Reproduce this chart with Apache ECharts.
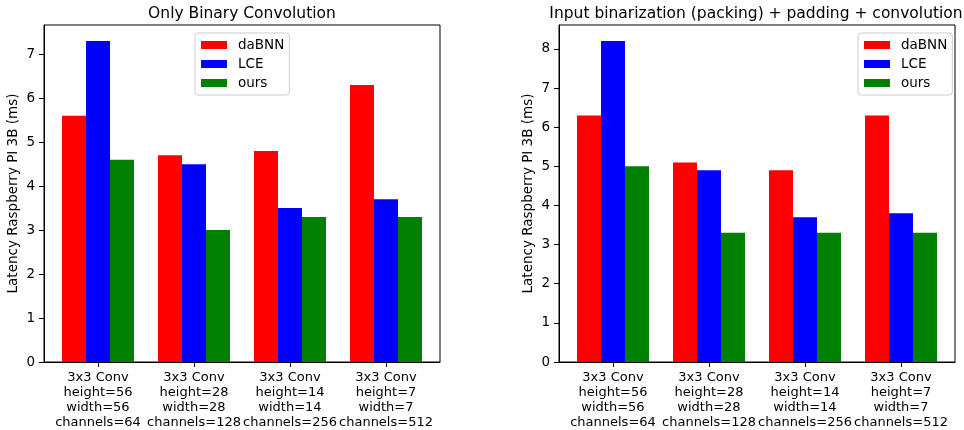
<!DOCTYPE html>
<html><head><meta charset="utf-8">
<script src="https://cdn.jsdelivr.net/npm/echarts@6/dist/echarts.min.js"></script>
<style>html,body{margin:0;padding:0;background:#fff}#c{width:964px;height:430px}</style>
</head><body><div id="c"></div>
<script>
const categories = [
  "3x3 Conv\nheight=56\nwidth=56\nchannels=64",
  "3x3 Conv\nheight=28\nwidth=28\nchannels=128",
  "3x3 Conv\nheight=14\nwidth=14\nchannels=256",
  "3x3 Conv\nheight=7\nwidth=7\nchannels=512"
];
const seriesNames = ["daBNN", "LCE", "ours"];
const leftTitle = "Only Binary Convolution";
const rightTitle = "Input binarization (packing) + padding + convolution";
const yLabel = "Latency Raspberry PI 3B (ms)";
const leftDaBNN = [5.6, 4.7, 4.8, 6.3];
const leftLCE = [7.3, 4.5, 3.5, 3.7];
const leftOurs = [4.6, 3.0, 3.3, 3.3];
const rightDaBNN = [6.3, 5.1, 4.9, 6.3];
const rightLCE = [8.2, 4.9, 3.7, 3.8];
const rightOurs = [5.0, 3.3, 3.3, 3.3];
const leftYTicks = [0, 1, 2, 3, 4, 5, 6, 7];
const rightYTicks = [0, 1, 2, 3, 4, 5, 6, 7, 8];
const colors = ["#ff0000", "#0000ff", "#008000"];

const FONT = "DejaVu Sans";
const FS = 13.5;
const chart = echarts.init(document.getElementById('c'));
const toPts = arr => arr.map((v, i) => [i, v]);
const catIdx = categories.map((c, i) => i);

function xAx(gi) {
  return {
    type: 'value', gridIndex: gi, min: -0.5625, max: 3.5625,
    splitLine: { show: false },
    axisLine: { show: true, onZero: false, lineStyle: { color: '#000', width: 1 } },
    axisTick: { show: true, customValues: catIdx, length: 5, lineStyle: { color: '#000' } },
    axisLabel: { customValues: catIdx, formatter: v => categories[Math.round(v)] || '',
      hideOverlap: false, showMinLabel: true, showMaxLabel: true,
      fontFamily: FONT, fontSize: 13, color: '#000', lineHeight: 15, margin: 8, align: 'center' }
  };
}
function yAx(gi, max, ticks) {
  return {
    type: 'value', gridIndex: gi, min: 0, max: max,
    name: yLabel, nameLocation: 'middle', nameGap: 24,
    nameTextStyle: { fontFamily: FONT, fontSize: FS, color: '#000' },
    splitLine: { show: false },
    axisLine: { show: true, onZero: false, lineStyle: { color: '#000', width: 1 } },
    axisTick: { show: true, customValues: ticks, length: 5, lineStyle: { color: '#000' } },
    axisLabel: { customValues: ticks, hideOverlap: false, fontFamily: FONT, fontSize: FS, color: '#000', margin: 9,
      formatter: v => String(Math.round(v)) }
  };
}
function bars(name, data, idx, gi) {
  return { type: 'bar', name: name, xAxisIndex: gi, yAxisIndex: gi, data: toPts(data),
    barWidth: 24, barGap: '0%', itemStyle: { color: colors[idx] }, silent: true, animation: false };
}
function legend(left) {
  return { orient: 'vertical', left: left, top: 33, data: seriesNames,
    itemWidth: 26, itemHeight: 8, itemGap: 5, icon: 'rect',
    padding: [5, 5, 5, 6], borderColor: '#cccccc', borderWidth: 1, borderRadius: 3,
    backgroundColor: '#ffffff',
    textStyle: { fontFamily: FONT, fontSize: FS, color: '#000', padding: [0, 0, 0, 6] } };
}

chart.setOption({
  animation: false,
  backgroundColor: '#ffffff',
  title: [
    { text: leftTitle, left: 237, top: 1, textAlign: 'center',
      textStyle: { fontFamily: FONT, fontSize: 15.5, fontWeight: 'normal', color: '#000' } },
    { text: rightTitle, left: 751, top: 1, textAlign: 'center',
      textStyle: { fontFamily: FONT, fontSize: 15.5, fontWeight: 'normal', color: '#000' } }
  ],
  grid: [
    { left: 44, top: 25, width: 396, height: 338, show: true, borderColor: '#000', borderWidth: 1, backgroundColor: 'transparent' },
    { left: 559, top: 25, width: 396, height: 338, show: true, borderColor: '#000', borderWidth: 1, backgroundColor: 'transparent' }
  ],
  legend: [legend(195), legend(858)],
  xAxis: [xAx(0), xAx(1)],
  yAxis: [yAx(0, 7.665, leftYTicks), yAx(1, 8.61, rightYTicks)],
  series: [
    bars(seriesNames[0], leftDaBNN, 0, 0),
    bars(seriesNames[1], leftLCE, 1, 0),
    bars(seriesNames[2], leftOurs, 2, 0),
    bars(seriesNames[0], rightDaBNN, 0, 1),
    bars(seriesNames[1], rightLCE, 1, 1),
    bars(seriesNames[2], rightOurs, 2, 1)
  ]
});
</script></body></html>
